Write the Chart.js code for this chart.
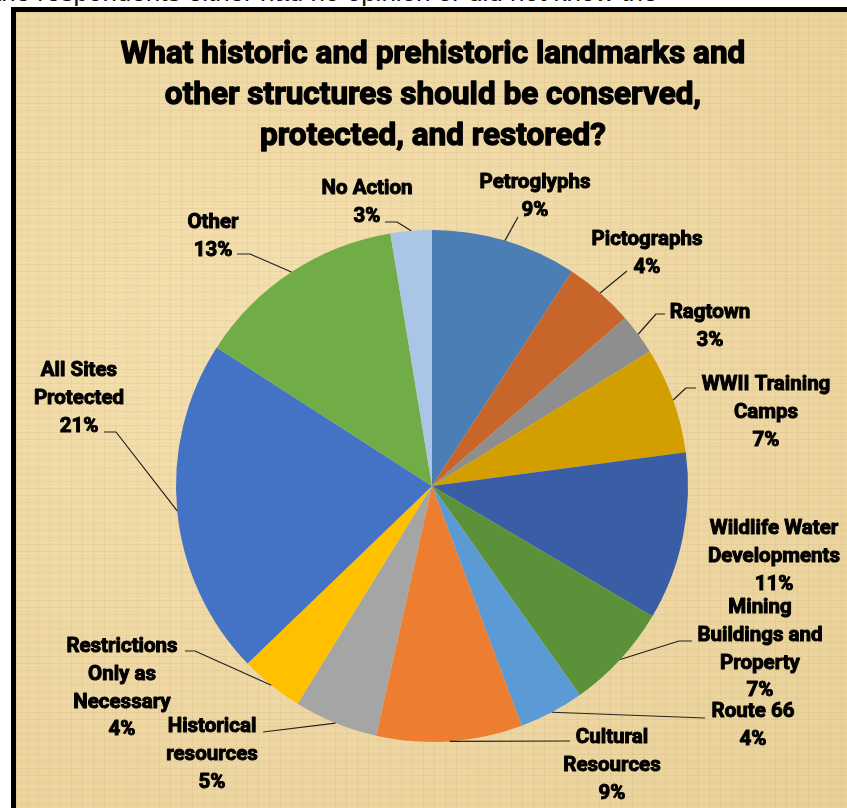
<!DOCTYPE html>
<html>
<head>
<meta charset="utf-8">
<script src="https://cdn.jsdelivr.net/npm/chart.js@4.4.1/dist/chart.umd.min.js"></script>
<style>
  html, body { margin: 0; padding: 0; background: #fff; overflow: hidden; }
  #page { position: relative; width: 847px; height: 808px; overflow: hidden; }
  #topline { position: absolute; left: -6px; top: -23px; font: 26px "Liberation Sans", Arial, sans-serif; color: #111; white-space: nowrap; }
  #box {
    position: absolute; left: 11px; top: 7px; width: 860px; height: 830px;
    border: 5px solid #000; box-sizing: border-box;
    background-color: #eed7a2;
    background-image:
      repeating-linear-gradient(0deg, rgba(140,110,50,0.08) 0 1px, transparent 1px 7px),
      repeating-linear-gradient(90deg, rgba(140,110,50,0.08) 0 1px, transparent 1px 11px),
      radial-gradient(ellipse at 30% 40%, rgba(255,240,200,0.35), rgba(200,165,95,0.15));
  }
  canvas { position: absolute; left: 0; top: 0; }
</style>
</head>
<body>
<div id="page">
  <div id="topline">the respondents either had no opinion or did not know the</div>
  <div id="box"></div>
  <canvas id="pie" width="847" height="808"></canvas>
</div>
<script>
// data (clockwise from 12 o'clock)
const categories = ['Petroglyphs', 'Pictographs', 'Ragtown', 'WWII Training Camps',
  'Wildlife Water Developments', 'Mining Buildings and Property', 'Route 66',
  'Cultural Resources', 'Historical resources', 'Restrictions Only as Necessary',
  'All Sites Protected', 'Other', 'No Action'];
const shares = [9.2, 4.4, 2.6, 6.7, 10.6, 6.7, 4.1, 9.2, 5.3, 4.0, 21.3, 13.3, 2.6];
const labelLines = [['Petroglyphs'], ['Pictographs'], ['Ragtown'], ['WWII Training', 'Camps'],
  ['Wildlife Water', 'Developments'], ['Mining', 'Buildings and', 'Property'], ['Route 66'],
  ['Cultural', 'Resources'], ['Historical', 'resources'], ['Restrictions', 'Only as', 'Necessary'],
  ['All Sites', 'Protected'], ['Other'], ['No Action']];
const colors = ['#4a7eb5', '#c8652a', '#8e8e8e', '#d29e00', '#3a5ea5', '#5a9139', '#5b9bd5',
  '#ed7d31', '#a5a5a5', '#ffc000', '#4472c4', '#70ad47', '#abc5e7'];
const titleLines = ['What historic and prehistoric landmarks and',
  'other structures should be conserved,', 'protected, and restored?'];

// label layout: text centre x, first baseline y, leader start, optional elbow
const labelPlace = [
  [535, 188, [518, 217], null],
  [647, 245, [627, 271], null],
  [710, 318, [665, 314], [656, 314]],
  [766, 390, [696, 388], [686, 388]],
  [774, 534, null, null],
  [760, 613, [692, 641], [679, 641]],
  [753, 717, [705, 718], null],
  [612, 743, [570, 741], null],
  [212, 732, [263, 732], null],
  [122, 652, [185, 651], [195, 651]],
  [79, 376, [104, 432], [116, 432]],
  [213, 228, [237, 254], [250, 254]],
  [367, 194, [385, 222], [397, 222]]
];

function heavyText(ctx, t, x, y, w) {
  ctx.lineWidth = w;
  ctx.strokeText(t, x, y);
  ctx.fillText(t, x, y);
}

const labelsPlugin = {
  id: 'labels',
  afterDraw(chart) {
    const ctx = chart.ctx;
    const arcs = chart.getDatasetMeta(0).data;
    ctx.save();
    ctx.fillStyle = '#000';
    ctx.textAlign = 'center';
    ctx.textBaseline = 'alphabetic';
    ctx.lineJoin = 'round';
    ctx.font = 'bold 31.5px Roboto';
    ctx.strokeStyle = '#000';
    titleLines.forEach((t, i) => heavyText(ctx, t, 433, 63 + i * 41, 1.3));

    arcs.forEach((arc, i) => {
      const p = labelPlace[i];
      if (p[2]) {
        const mid = (arc.startAngle + arc.endAngle) / 2;
        const ex = arc.x + arc.outerRadius * Math.cos(mid);
        const ey = arc.y + arc.outerRadius * Math.sin(mid);
        ctx.strokeStyle = '#222';
        ctx.lineWidth = 1.2;
        ctx.beginPath();
        ctx.moveTo(p[2][0], p[2][1]);
        if (p[3]) ctx.lineTo(p[3][0], p[3][1]);
        ctx.lineTo(ex, ey);
        ctx.stroke();
      }
      const lines = labelLines[i].concat([Math.round(shares[i]) + '%']);
      ctx.font = 'bold 20.5px Roboto';
      ctx.strokeStyle = '#000';
      lines.forEach((t, j) => heavyText(ctx, t, p[0], p[1] + j * 27.8, 1));
    });
    ctx.restore();
  }
};

new Chart(document.getElementById('pie'), {
  type: 'pie',
  data: {
    labels: categories,
    datasets: [{ data: shares, backgroundColor: colors, borderWidth: 0 }]
  },
  options: {
    responsive: false,
    animation: false,
    layout: { padding: { left: 176, right: 159, top: 230, bottom: 66 } },
    plugins: { legend: { display: false }, tooltip: { enabled: false } }
  },
  plugins: [labelsPlugin]
});
</script>
</body>
</html>
